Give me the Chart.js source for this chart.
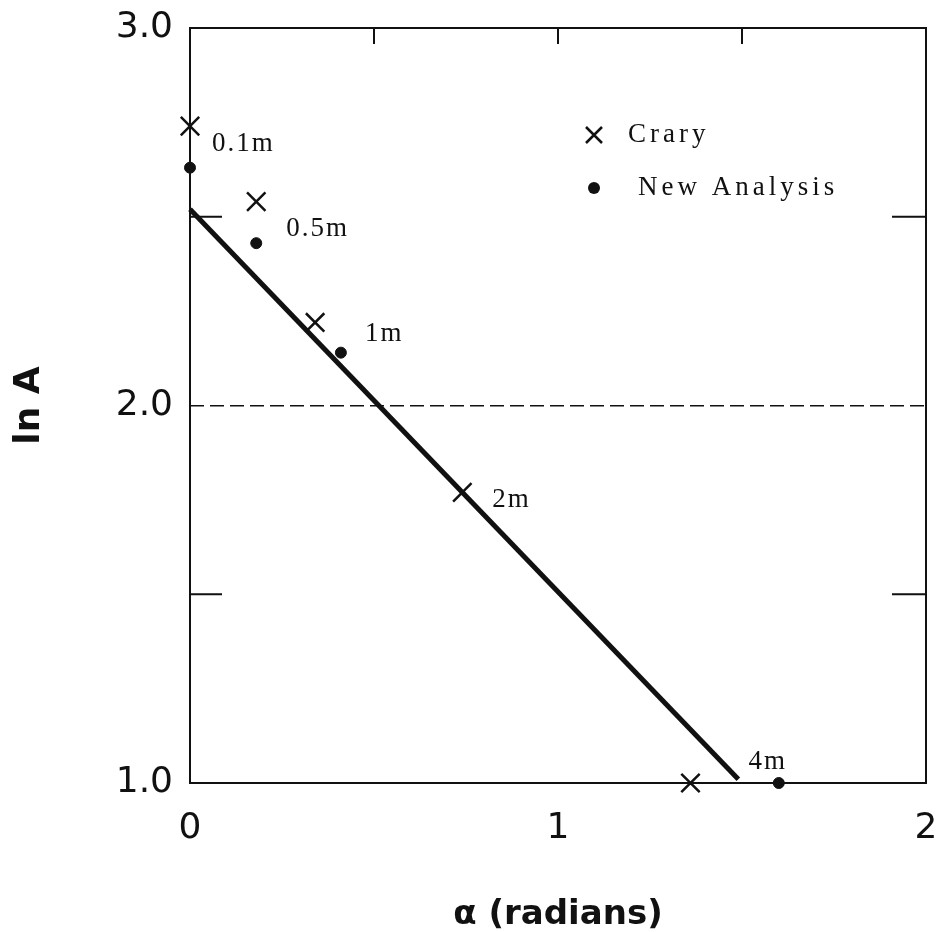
<!DOCTYPE html>
<html>
<head>
<meta charset="utf-8">
<script src="https://cdn.jsdelivr.net/npm/chart.js@4.4.0/dist/chart.umd.min.js"></script>
<style>
html, body { margin: 0; padding: 0; background: #fff; }
</style>
</head>
<body>
<canvas id="myChart" width="942" height="932"></canvas>
<script>
// data
var craryAlpha = [0, 0.18, 0.34, 0.74, 1.36];
var craryLnA = [2.74, 2.54, 2.22, 1.77, 1.0];
var newAlpha = [0, 0.18, 0.41, 1.6];
var newLnA = [2.63, 2.43, 2.14, 1.0];
var fitAlpha = [0, 1.49];
var fitLnA = [2.52, 1.01];
var distanceLabels = ["0.1m", "0.5m", "1m", "2m", "4m"];
var xTickValues = [0, 1, 2];
var xTickLabels = ["0", "1", "2"];
var yTickValues = [1, 2, 3];
var yTickLabels = ["1.0", "2.0", "3.0"];

// pair up x & y arrays for the scatter datasets
var toPoints = function(xs, ys) {
    return xs.map(function(x, i) { return { x: x, y: ys[i] }; });
};

// pixel nudges for the distance labels (relative to each Crary mark)
var labelNudge = [[22, 18], [30, 27], [50, 11], [30, 8], [58, -21]];

var ink = "#111";
var serif = "'Liberation Serif', 'DejaVu Serif', serif";
var sans = "'DejaVu Sans', sans-serif";

// plugin: box, inward ticks, distance labels and the little legend
var paperPlugin = {
    id: "paper",
    afterDraw: function(chart) {
        var ctx = chart.ctx;
        var area = chart.chartArea;
        var xs = chart.scales.x;
        var ys = chart.scales.y;
        ctx.save();
        ctx.strokeStyle = ink;
        ctx.lineWidth = 2;
        ctx.strokeRect(area.left, area.top, area.right - area.left, area.bottom - area.top);

        ctx.beginPath();
        xs.ticks.forEach(function(t) {
            if (t.value > xs.min && t.value < xs.max) {
                var px = xs.getPixelForValue(t.value);
                ctx.moveTo(px, area.top);
                ctx.lineTo(px, area.top + 16);
            }
        });
        ys.ticks.forEach(function(t) {
            if (t.value > ys.min && t.value < ys.max && yTickValues.indexOf(t.value) < 0) {
                var py = ys.getPixelForValue(t.value);
                ctx.moveTo(area.left, py);
                ctx.lineTo(area.left + 32, py);
                ctx.moveTo(area.right, py);
                ctx.lineTo(area.right - 34, py);
            }
        });
        ctx.stroke();

        // distance labels next to the Crary marks
        var meta = chart.getDatasetMeta(0);
        ctx.fillStyle = ink;
        ctx.font = "27px " + serif;
        ctx.textAlign = "left";
        ctx.textBaseline = "middle";
        if ("letterSpacing" in ctx) ctx.letterSpacing = "2px";
        meta.data.forEach(function(pt, i) {
            ctx.fillText(distanceLabels[i], pt.x + labelNudge[i][0], pt.y + labelNudge[i][1]);
        });

        // legend
        var lx = 594;
        var ly = [135, 188];
        ctx.font = "27px " + serif;
        if ("letterSpacing" in ctx) ctx.letterSpacing = "4px";
        ctx.lineWidth = 2.5;
        ctx.beginPath();
        ctx.moveTo(lx - 8, ly[0] - 8);
        ctx.lineTo(lx + 8, ly[0] + 8);
        ctx.moveTo(lx + 8, ly[0] - 8);
        ctx.lineTo(lx - 8, ly[0] + 8);
        ctx.stroke();
        ctx.beginPath();
        ctx.arc(lx, ly[1], 6, 0, Math.PI * 2);
        ctx.fill();
        ctx.fillText(chart.data.datasets[0].label, lx + 34, ly[0]);
        ctx.fillText(chart.data.datasets[1].label, lx + 44, ly[1]);
        ctx.restore();
    }
};

var myChart = document.getElementById("myChart").getContext("2d");

var lnAChart = new Chart(myChart, {
    type: "scatter",
    data: {
        datasets: [{
            label: "Crary",
            data: toPoints(craryAlpha, craryLnA),
            pointStyle: "crossRot",
            pointRadius: 13,
            borderColor: ink,
            borderWidth: 2.5,
            backgroundColor: ink,
            clip: false
        }, {
            label: "New Analysis",
            data: toPoints(newAlpha, newLnA),
            pointStyle: "circle",
            pointRadius: 5.5,
            borderColor: ink,
            borderWidth: 1,
            backgroundColor: ink,
            clip: false
        }, {
            label: "fit",
            data: toPoints(fitAlpha, fitLnA),
            showLine: true,
            pointRadius: 0,
            borderColor: ink,
            borderWidth: 5,
            order: 5,
            clip: false
        }]
    },
    options: {
        responsive: false,
        animation: false,
        layout: {
            padding: { top: 28, right: 16, left: 0, bottom: 0 }
        },
        plugins: {
            legend: { display: false },
            tooltip: { enabled: false }
        },
        scales: {
            x: {
                type: "linear",
                min: 0,
                max: 2,
                afterFit: function(scale) {
                    scale.height = 149;
                    scale.paddingLeft = 0;
                    scale.paddingRight = 0;
                },
                ticks: {
                    stepSize: 0.5,
                    padding: 24,
                    color: ink,
                    maxRotation: 0,
                    font: { family: sans, size: 36 },
                    callback: function(v) {
                        var i = xTickValues.indexOf(v);
                        return i < 0 ? "" : xTickLabels[i];
                    }
                },
                grid: { display: false, drawTicks: false },
                border: { display: false },
                title: {
                    display: true,
                    text: "\u03b1 (radians)",
                    color: ink,
                    font: { family: sans, size: 34, weight: "bold", lineHeight: 1 },
                    padding: { top: 0, bottom: 0 }
                }
            },
            y: {
                type: "linear",
                min: 1,
                max: 3,
                afterFit: function(scale) {
                    scale.width = 190;
                    scale.paddingTop = 0;
                    scale.paddingBottom = 0;
                },
                ticks: {
                    stepSize: 0.5,
                    padding: 17,
                    color: ink,
                    font: { family: sans, size: 36 },
                    callback: function(v) {
                        var i = yTickValues.indexOf(v);
                        return i < 0 ? "" : yTickLabels[i];
                    }
                },
                grid: {
                    drawTicks: false,
                    lineWidth: 1.5,
                    color: function(c) {
                        return c.tick && c.tick.value === 2 ? ink : "rgba(0,0,0,0)";
                    }
                },
                border: { display: false, dash: [14, 6] },
                title: {
                    display: true,
                    text: "ln A",
                    color: ink,
                    font: { family: sans, size: 36, weight: "bold", lineHeight: 1 },
                    padding: { top: 12, bottom: 0 }
                }
            }
        }
    },
    plugins: [paperPlugin]
});
</script>
</body>
</html>
